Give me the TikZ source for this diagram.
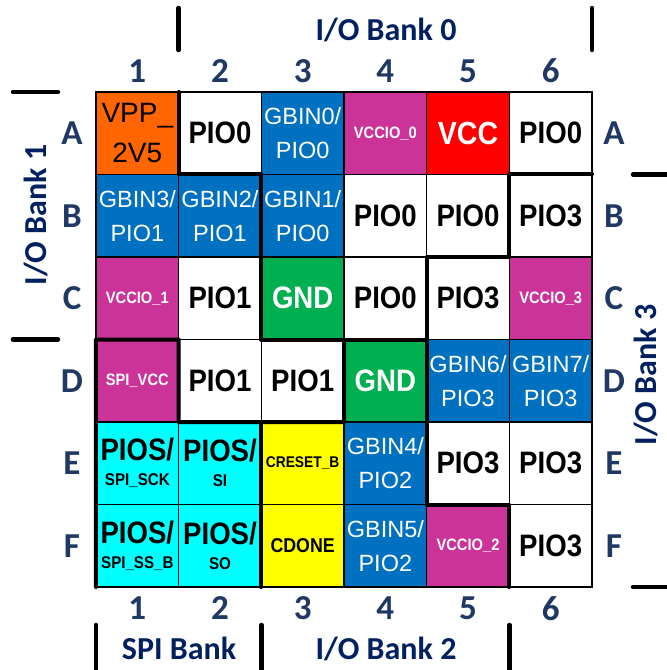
\documentclass[tikz,border=0pt]{standalone}
\usepackage{fontspec}
\setmainfont{Liberation Sans}
\newfontfamily\cellbf{Liberation Sans}[FakeStretch=0.89]
\newfontfamily\labelfont{Carlito}
\usetikzlibrary{positioning}
\definecolor{vpporange}{HTML}{FF6600}
\definecolor{gbinblue}{HTML}{0070C0}
\definecolor{vcciomag}{HTML}{CC3399}
\definecolor{vccred}{HTML}{FF0000}
\definecolor{gndgreen}{HTML}{00B050}
\definecolor{spicyan}{HTML}{00FFFF}
\definecolor{cfgyellow}{HTML}{FFFF00}
\definecolor{lblblue}{HTML}{1F3864}
\definecolor{bankblue}{HTML}{002060}

\begin{document}
\begin{tikzpicture}[x=82.67pt,y=-82.5pt,
cell/.style = {draw, line width=1.2pt, minimum width=82.67pt, minimum height=82.5pt, inner sep=0pt, outer sep=0pt, align=center, font=\cellbf\bfseries\fontsize{31}{30}\selectfont},
pio/.style = {cell, fill=white},
gbin/.style = {cell, fill=gbinblue, text=white, font=\fontsize{23.5}{34}\selectfont},
vccio/.style = {cell, fill=vcciomag, text=white, font=\cellbf\bfseries\fontsize{16.5}{18}\selectfont},
vpp/.style = {cell, fill=vpporange, font=\fontsize{28}{40}\selectfont},
vcc/.style = {cell, fill=vccred, text=white, font=\cellbf\bfseries\fontsize{32}{30}\selectfont},
gnd/.style = {cell, fill=gndgreen, text=white},
pios/.style = {cell, fill=spicyan, font=\cellbf\bfseries\fontsize{31}{25}\selectfont},
cfg/.style = {cell, fill=cfgyellow},
num/.style = {text=lblblue, font=\labelfont\bfseries\fontsize{35}{35}\selectfont},
bank/.style = {text=bankblue, font=\labelfont\bfseries\fontsize{32}{32}\selectfont, anchor=base},
bankline/.style = {line width=4pt, line cap=round, line join=round},
banktick/.style = {line width=4.5pt, line cap=round}]
\useasboundingbox (-1.1612,-1.1152) rectangle (6.9070,7.0061);
% row A
\node (A1) at (0.5,0.5)[vpp] {VPP\_\\2V5};
\node (A2) at (1.5,0.5)[pio] {PIO0};
\node (A3) at (2.5,0.5)[gbin] {GBIN0/\\PIO0};
\node (A4) at (3.5,0.5)[vccio] {VCCIO\_0};
\node (A5) at (4.5,0.5)[vcc] {VCC};
\node (A6) at (5.5,0.5)[pio] {PIO0};
% row B
\node (B1) at (0.5,1.5)[gbin] {GBIN3/\\PIO1};
\node (B2) at (1.5,1.5)[gbin] {GBIN2/\\PIO1};
\node (B3) at (2.5,1.5)[gbin] {GBIN1/\\PIO0};
\node (B4) at (3.5,1.5)[pio] {PIO0};
\node (B5) at (4.5,1.5)[pio] {PIO0};
\node (B6) at (5.5,1.5)[pio] {PIO3};
% row C
\node (C1) at (0.5,2.5)[vccio] {VCCIO\_1};
\node (C2) at (1.5,2.5)[pio] {PIO1};
\node (C3) at (2.5,2.5)[gnd] {GND};
\node (C4) at (3.5,2.5)[pio] {PIO0};
\node (C5) at (4.5,2.5)[pio] {PIO3};
\node (C6) at (5.5,2.5)[vccio] {VCCIO\_3};
% row D
\node (D1) at (0.5,3.5)[vccio] {SPI\_VCC};
\node (D2) at (1.5,3.5)[pio] {PIO1};
\node (D3) at (2.5,3.5)[pio] {PIO1};
\node (D4) at (3.5,3.5)[gnd] {GND};
\node (D5) at (4.5,3.5)[gbin] {GBIN6/\\PIO3};
\node (D6) at (5.5,3.5)[gbin] {GBIN7/\\PIO3};
% row E
\node (E1) at (0.5,4.5)[pios] {PIOS/\\{\fontsize{17}{18}\selectfont SPI\_SCK}};
\node (E2) at (1.5,4.5)[pios] {PIOS/\\{\fontsize{17}{18}\selectfont SI}};
\node (E3) at (2.5,4.5)[cfg,font=\cellbf\bfseries\fontsize{15.5}{16}\selectfont] {CRESET\_B};
\node (E4) at (3.5,4.5)[gbin] {GBIN4/\\PIO2};
\node (E5) at (4.5,4.5)[pio] {PIO3};
\node (E6) at (5.5,4.5)[pio] {PIO3};
% row F
\node (F1) at (0.5,5.5)[pios] {PIOS/\\{\fontsize{17}{18}\selectfont SPI\_SS\_B}};
\node (F2) at (1.5,5.5)[pios] {PIOS/\\{\fontsize{17}{18}\selectfont SO}};
\node (F3) at (2.5,5.5)[cfg,font=\cellbf\bfseries\fontsize{20}{20}\selectfont] {CDONE};
\node (F4) at (3.5,5.5)[gbin] {GBIN5/\\PIO2};
\node (F5) at (4.5,5.5)[vccio] {VCCIO\_2};
\node (F6) at (5.5,5.5)[pio] {PIO3};
% bank borders
\draw[bankline] (A1.north east)--(A1.south east)--(A2.south east)--(C2.south east)--(D4.north east);
\draw[bankline] (F1.south west)--(D1.north west)--(D1.north east)--(D1.south east)--(D3.south east)--(D4.north west);
\draw[bankline] (E2.north east)--(F2.south east);
\draw[bankline] (A6.south east)--(B6.north west)--(B6.south west)--(B5.south west)--(E5.south west)--(E5.south east)--(F5.south east);
% column and row labels
\node (t1) at (0.5,-0.255)[num] {1};
\node (t2) at (1.5,-0.255)[num] {2};
\node (t3) at (2.5,-0.255)[num] {3};
\node (t4) at (3.5,-0.255)[num] {4};
\node (t5) at (4.5,-0.255)[num] {5};
\node (t6) at (5.5,-0.255)[num] {6};
\node (b1) at (0.5,6.26)[num] {1};
\node (b2) at (1.5,6.26)[num] {2};
\node (b3) at (2.5,6.26)[num] {3};
\node (b4) at (3.5,6.26)[num] {4};
\node (b5) at (4.5,6.26)[num] {5};
\node (b6) at (5.5,6.26)[num] {6};
\node (lA) at (-0.29,0.5)[num] {A};
\node (lB) at (-0.29,1.5)[num] {B};
\node (lC) at (-0.29,2.5)[num] {C};
\node (lD) at (-0.29,3.5)[num] {D};
\node (lE) at (-0.29,4.5)[num] {E};
\node (lF) at (-0.29,5.5)[num] {F};
\node (rA) at (6.266,0.5)[num] {A};
\node (rB) at (6.266,1.5)[num] {B};
\node (rC) at (6.266,2.5)[num] {C};
\node (rD) at (6.266,3.5)[num] {D};
\node (rE) at (6.266,4.5)[num] {E};
\node (rF) at (6.266,5.5)[num] {F};
% bank names and ticks
\node (bank0) at (3.508,-0.630)[bank] {I/O Bank 0};
\node (bank1) at (-0.593,1.491)[bank,rotate=90] {I/O Bank 1};
\node (bank2) at (3.508,6.873)[bank] {I/O Bank 2};
\node (bank3) at (6.78,3.43)[bank,rotate=90] {I/O Bank 3};
\node (bankspi) at (1.004,6.873)[bank] {SPI Bank};
\draw[banktick] (1,-1.018)--(1,-0.509);
\draw[banktick] (6,-1.018)--(6,-0.509);
\draw[banktick] (-1.004,0)--(-0.46,0);
\draw[banktick] (-1.004,3)--(-0.46,3);
\draw[banktick] (6.496,1)--(7.0,1);
\draw[banktick] (6.496,6)--(7.0,6);
\draw[banktick] (0,6.46)--(0,7.1);
\draw[banktick] (2,6.46)--(2,7.1);
\draw[banktick] (5,6.46)--(5,7.1);
\end{tikzpicture}
\end{document}
